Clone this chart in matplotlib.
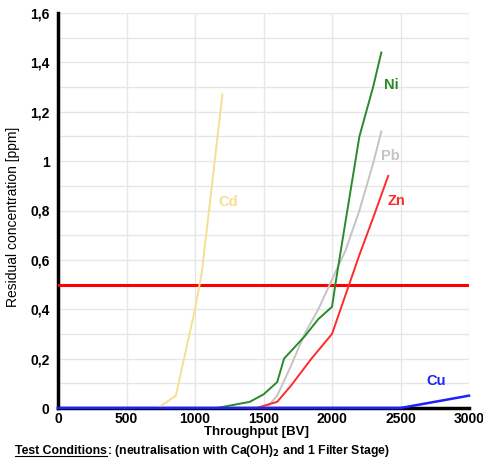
import matplotlib
matplotlib.use("Agg")
import matplotlib.pyplot as plt
from matplotlib.lines import Line2D
import numpy as np

plt.rcParams['font.family'] = ['Liberation Sans', 'DejaVu Sans']

# Data (Throughput [BV], residual concentration [ppm])
cd_x = [730, 860, 960, 1000, 1050, 1200]
cd_y = [0.0, 0.05, 0.30, 0.40, 0.55, 1.27]

ni_x = [1160, 1400, 1500, 1600, 1650, 1700, 1800, 1900, 2000, 2030, 2100, 2200, 2250, 2300, 2360]
ni_y = [0.0, 0.025, 0.055, 0.105, 0.20, 0.23, 0.29, 0.36, 0.41, 0.52, 0.76, 1.10, 1.20, 1.30, 1.44]

pb_x = [1520, 1600, 1700, 1800, 1900, 2000, 2100, 2200, 2300, 2360]
pb_y = [0.0, 0.05, 0.17, 0.30, 0.40, 0.52, 0.64, 0.80, 0.99, 1.12]

zn_x = [1450, 1600, 1700, 1850, 2000, 2100, 2200, 2300, 2410]
zn_y = [0.0, 0.025, 0.09, 0.20, 0.30, 0.46, 0.62, 0.77, 0.94]

cu_x = [0, 2500, 3000]
cu_y = [0.0, 0.0, 0.05]

limit_value = 0.5

x_ticks = [0, 500, 1000, 1500, 2000, 2500, 3000]
y_ticks = [0, 0.2, 0.4, 0.6, 0.8, 1.0, 1.2, 1.4, 1.6]
y_tick_labels = ['0', '0,2', '0,4', '0,6', '0,8', '1', '1,2', '1,4', '1,6']

fig = plt.figure(figsize=(4.83, 4.58), dpi=100)
ax = fig.add_axes([58/483, 1 - 408/458, (469-58)/483, (408-13)/458])

ax.set_xlim(0, 3000)
ax.set_ylim(0, 1.6)

ax.set_xticks(x_ticks)
ax.set_xticklabels([str(t) for t in x_ticks], fontsize=10, fontweight='bold')
ax.set_yticks(y_ticks)
ax.set_yticklabels(y_tick_labels, fontsize=10, fontweight='bold')
ax.set_yticks(np.arange(0, 1.61, 0.1), minor=True)
ax.tick_params(axis='both', which='both', length=0)
ax.tick_params(axis='y', pad=6)
ax.tick_params(axis='x', pad=3)

ax.grid(True, which='both', color='#e6e6e6', linewidth=1.0)
ax.set_axisbelow(True)

for s in ['top', 'right']:
    ax.spines[s].set_visible(False)
ax.spines['left'].set_linewidth(2.5)
ax.spines['bottom'].set_linewidth(2.5)
ax.spines['left'].set_color('black')
ax.spines['bottom'].set_color('black')

ax.axhline(limit_value, color='#ff0000', linewidth=2.2, zorder=3)

ax.plot(cd_x, cd_y, color='#f5df90', linewidth=1.4, zorder=4)
ax.plot(pb_x, pb_y, color='#c4c4c4', linewidth=1.4, zorder=4)
ax.plot(zn_x, zn_y, color='#ff2a2a', linewidth=1.4, zorder=4)
ax.plot(ni_x, ni_y, color='#2a8a2a', linewidth=1.4, zorder=5)
ax.plot(cu_x, cu_y, color='#1f1fff', linewidth=1.8, zorder=6, clip_on=False)

lbl_fs = 10.5
ax.text(1170, 0.835, 'Cd', color='#f5df90', fontsize=lbl_fs, fontweight='bold', va='center')
ax.text(2380, 1.31, 'Ni', color='#2a8a2a', fontsize=lbl_fs, fontweight='bold', va='center')
ax.text(2357, 1.02, 'Pb', color='#c4c4c4', fontsize=lbl_fs, fontweight='bold', va='center')
ax.text(2408, 0.84, 'Zn', color='#ff2a2a', fontsize=lbl_fs, fontweight='bold', va='center')
ax.text(2687, 0.11, 'Cu', color='#1f1fff', fontsize=lbl_fs, fontweight='bold', va='center')

fig.text(13/483, 1 - 217/458, 'Residual concentration [ppm]', rotation=90,
         fontsize=10, ha='center', va='center')
fig.text(256/483, 1 - 432/458, 'Throughput [BV]', fontsize=9.5, fontweight='bold',
         ha='center', va='center')

# Bottom note with underlined "Test Conditions"
note_fs = 8.8
base_y = 1 - 454/458
t1 = fig.text(15/483, base_y, 'Test Conditions', fontsize=note_fs, fontweight='bold',
              ha='left', va='baseline')
fig.canvas.draw()
r = fig.canvas.get_renderer()
bb = t1.get_window_extent(r)
x_end = bb.x1 / fig.bbox.width
fig.add_artist(Line2D([15/483, x_end], [base_y - 1.5/458, base_y - 1.5/458],
                      color='black', linewidth=0.8, transform=fig.transFigure))
fig.text(x_end, base_y, ': (neutralisation with Ca(OH)$_\\mathbf{2}$ and 1 Filter Stage)',
         fontsize=note_fs, fontweight='bold', ha='left', va='baseline')

fig.savefig('out.png', dpi=100)
